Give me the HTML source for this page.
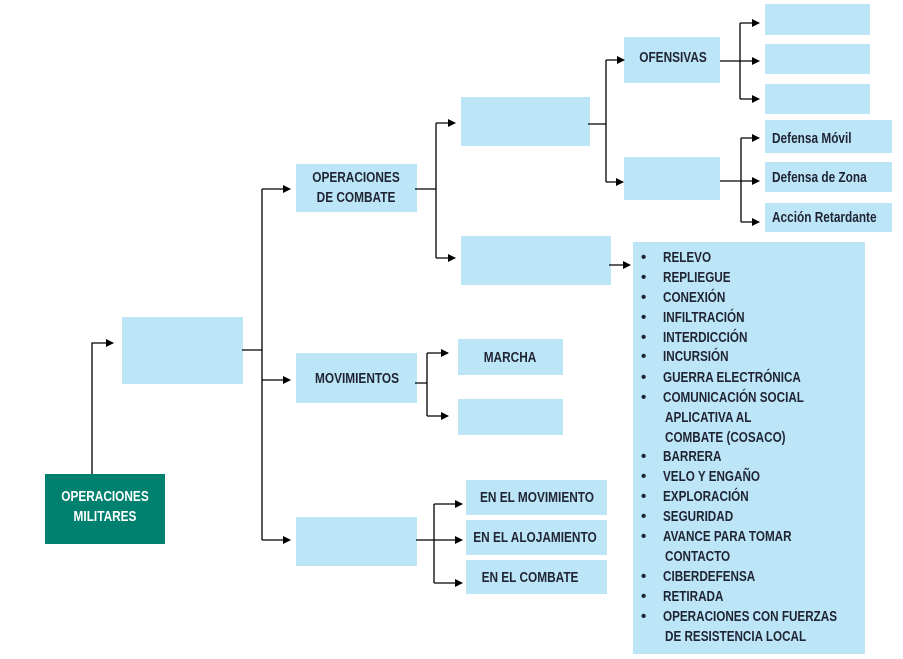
<!DOCTYPE html>
<html><head><meta charset="utf-8"><style>
html,body{margin:0;padding:0;background:#fff;}
svg{display:block;}
text{font-family:"Liberation Sans",sans-serif;font-weight:bold;fill:#1f2433;}
</style></head><body>
<svg width="903" height="659" viewBox="0 0 903 659" xmlns="http://www.w3.org/2000/svg">
<defs>
<marker id="a" markerWidth="8" markerHeight="8" refX="7" refY="4" orient="auto" markerUnits="userSpaceOnUse">
<path d="M0,0 L8,4 L0,8 z" fill="#000"/></marker>
</defs>
<g fill="#bde5f8">
<rect x="122" y="317" width="121" height="67"/>
<rect x="296" y="164" width="121" height="48"/>
<rect x="296" y="353" width="121" height="50"/>
<rect x="296" y="517" width="121" height="49"/>
<rect x="461" y="97" width="129" height="49"/>
<rect x="461" y="236" width="150" height="49"/>
<rect x="624" y="37" width="96" height="46"/>
<rect x="624" y="157" width="96" height="43"/>
<rect x="765" y="4" width="105" height="31"/>
<rect x="765" y="44" width="105" height="30"/>
<rect x="765" y="84" width="105" height="30"/>
<rect x="765" y="120" width="127" height="33"/>
<rect x="765" y="162" width="127" height="30"/>
<rect x="765" y="203" width="127" height="29"/>
<rect x="458" y="339" width="105" height="36"/>
<rect x="458" y="399" width="105" height="36"/>
<rect x="466" y="480" width="141" height="35"/>
<rect x="466" y="520" width="141" height="35"/>
<rect x="466" y="560" width="141" height="34"/>
<rect x="633" y="242" width="232" height="412"/>
</g>
<rect x="45" y="474" width="120" height="70" fill="#00806f"/>
<g stroke="#000" stroke-width="1.3" fill="none">
<path d="M92,474 V343 H113" marker-end="url(#a)"/>
<path d="M242,350 H262"/>
<path d="M262,189 V540"/>
<path d="M262,189 H290" marker-end="url(#a)"/>
<path d="M262,380 H290" marker-end="url(#a)"/>
<path d="M262,540 H290" marker-end="url(#a)"/>
<path d="M415,189 H436 M436,123 V258"/>
<path d="M436,123 H455" marker-end="url(#a)"/>
<path d="M436,258 H455" marker-end="url(#a)"/>
<path d="M588,124 H606 M606,60 V182"/>
<path d="M606,60 H624" marker-end="url(#a)"/>
<path d="M606,182 H623" marker-end="url(#a)"/>
<path d="M720,61 H740 M740,23 V99"/>
<path d="M740,23 H759" marker-end="url(#a)"/>
<path d="M740,61 H759" marker-end="url(#a)"/>
<path d="M740,99 H759" marker-end="url(#a)"/>
<path d="M720,181 H741 M741,138 V222"/>
<path d="M741,138 H759" marker-end="url(#a)"/>
<path d="M741,181 H759" marker-end="url(#a)"/>
<path d="M741,222 H759" marker-end="url(#a)"/>
<path d="M609,265 H630" marker-end="url(#a)"/>
<path d="M415,383 H427 M427,353 V416"/>
<path d="M427,353 H448" marker-end="url(#a)"/>
<path d="M427,416 H448" marker-end="url(#a)"/>
<path d="M416,540 H434 M434,504 V583"/>
<path d="M434,504 H462" marker-end="url(#a)"/>
<path d="M434,540 H462" marker-end="url(#a)"/>
<path d="M434,583 H462" marker-end="url(#a)"/>
</g>
<g font-size="15" text-anchor="middle">
<text transform="translate(105,501) scale(0.79,1)" style="fill:#fff">OPERACIONES</text>
<text transform="translate(105,521) scale(0.79,1)" style="fill:#fff">MILITARES</text>
<text transform="translate(356,182) scale(0.79,1)">OPERACIONES</text>
<text transform="translate(356,202) scale(0.79,1)">DE COMBATE</text>
<text transform="translate(357,383) scale(0.79,1)">MOVIMIENTOS</text>
<text transform="translate(673,62) scale(0.79,1)">OFENSIVAS</text>
<text transform="translate(510,362) scale(0.79,1)">MARCHA</text>
<text transform="translate(537,502) scale(0.79,1)">EN EL MOVIMIENTO</text>
<text transform="translate(535,542) scale(0.79,1)">EN EL ALOJAMIENTO</text>
<text transform="translate(530,582) scale(0.79,1)">EN EL COMBATE</text>
</g>
<g font-size="15">
<text transform="translate(772,143) scale(0.79,1)">Defensa Móvil</text>
<text transform="translate(772,182) scale(0.79,1)">Defensa de Zona</text>
<text transform="translate(772,222) scale(0.79,1)">Acción Retardante</text>
</g>
<g font-size="15">
<text x="641" y="262">•</text><text transform="translate(663,262) scale(0.78,1)">RELEVO</text>
<text x="641" y="282">•</text><text transform="translate(663,282) scale(0.78,1)">REPLIEGUE</text>
<text x="641" y="302">•</text><text transform="translate(663,302) scale(0.78,1)">CONEXIÓN</text>
<text x="641" y="322">•</text><text transform="translate(663,322) scale(0.78,1)">INFILTRACIÓN</text>
<text x="641" y="342">•</text><text transform="translate(663,342) scale(0.78,1)">INTERDICCIÓN</text>
<text x="641" y="361">•</text><text transform="translate(663,361) scale(0.78,1)">INCURSIÓN</text>
<text x="641" y="382">•</text><text transform="translate(663,382) scale(0.78,1)">GUERRA ELECTRÓNICA</text>
<text x="641" y="402">•</text><text transform="translate(663,402) scale(0.78,1)">COMUNICACIÓN SOCIAL</text>
<text transform="translate(665,422) scale(0.78,1)">APLICATIVA AL</text>
<text transform="translate(665,442) scale(0.78,1)">COMBATE (COSACO)</text>
<text x="641" y="461">•</text><text transform="translate(663,461) scale(0.78,1)">BARRERA</text>
<text x="641" y="481">•</text><text transform="translate(663,481) scale(0.78,1)">VELO Y ENGAÑO</text>
<text x="641" y="501">•</text><text transform="translate(663,501) scale(0.78,1)">EXPLORACIÓN</text>
<text x="641" y="521">•</text><text transform="translate(663,521) scale(0.78,1)">SEGURIDAD</text>
<text x="641" y="541">•</text><text transform="translate(663,541) scale(0.78,1)">AVANCE PARA TOMAR</text>
<text transform="translate(665,561) scale(0.78,1)">CONTACTO</text>
<text x="641" y="581">•</text><text transform="translate(663,581) scale(0.78,1)">CIBERDEFENSA</text>
<text x="641" y="601">•</text><text transform="translate(663,601) scale(0.78,1)">RETIRADA</text>
<text x="641" y="621">•</text><text transform="translate(663,621) scale(0.78,1)">OPERACIONES CON FUERZAS</text>
<text transform="translate(665,641) scale(0.78,1)">DE RESISTENCIA LOCAL</text>
</g>
</svg>
</body></html>
